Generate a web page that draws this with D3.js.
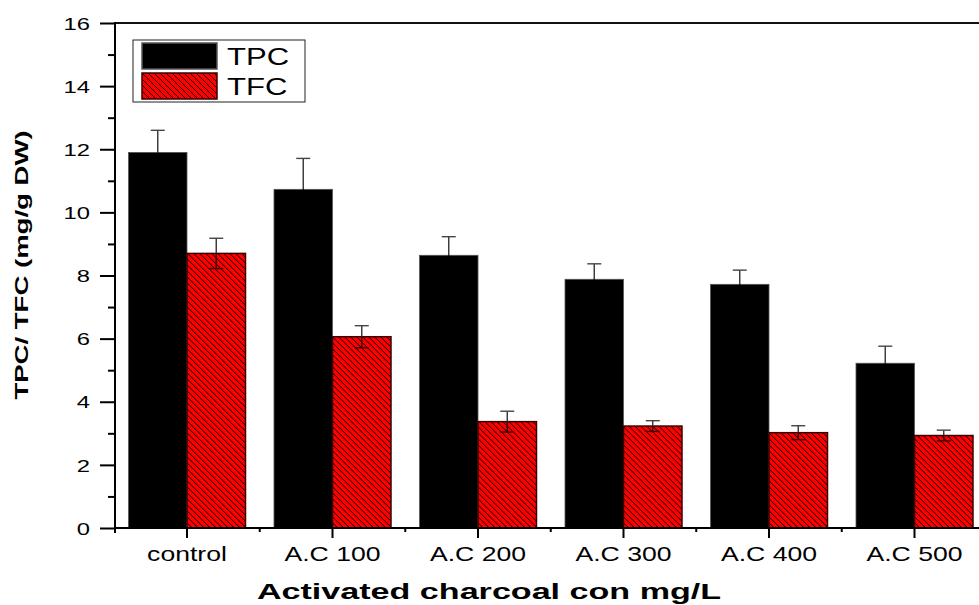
<!DOCTYPE html>
<html>
<head>
<meta charset="utf-8">
<script src="https://cdn.jsdelivr.net/npm/d3@7"></script>
<style>
  html, body { margin: 0; padding: 0; background: #fff; }
  svg { display: block; font-family: "Liberation Sans", Arial, sans-serif; }
</style>
</head>
<body>
<svg id="chart" width="979" height="605"></svg>
<script>
// Phenolic / flavonoid content under activated charcoal treatments
const categories = ["control", "A.C 100", "A.C 200", "A.C 300", "A.C 400", "A.C 500"];
const seriesNames = ["TPC", "TFC"];
const tpcValues = [11.90, 10.73, 8.64, 7.88, 7.72, 5.22];
const tpcErrors = [0.70, 0.98, 0.59, 0.49, 0.45, 0.54];
const tfcValues = [8.70, 6.06, 3.37, 3.23, 3.02, 2.93];
const tfcErrors = [0.48, 0.35, 0.33, 0.17, 0.22, 0.17];
const yMajorTicks = [0, 2, 4, 6, 8, 10, 12, 14, 16];
const yMinorTicks = [1, 3, 5, 7, 9, 11, 13, 15];
const xTitle = "Activated charcoal con mg/L";
const yTitle = "TPC/ TFC (mg/g DW)";

const W = 979, H = 605;
const plot = { left: 115, top: 23, bottom: 528 };

const svg = d3.select("#chart");

// diagonal hatch for the TFC bars
const defs = svg.append("defs");
const pat = defs.append("pattern")
  .attr("id", "hatch")
  .attr("patternUnits", "userSpaceOnUse")
  .attr("width", 6).attr("height", 6);
pat.append("rect").attr("width", 6).attr("height", 6).attr("fill", "#ff0000");
pat.append("path")
  .attr("d", "M-1,-1 L7,7 M-1,5 L1,7 M5,-1 L7,1")
  .attr("stroke", "#000").attr("stroke-width", 1);

const x = d3.scaleBand()
  .domain(categories)
  .range([114.25, 987.25])
  .paddingInner(0).paddingOuter(0);

const xs = d3.scaleBand()
  .domain(seriesNames)
  .range([0, x.bandwidth()])
  .paddingInner(0).paddingOuter(0.2436);

const y = d3.scaleLinear().domain([0, 16]).range([plot.bottom, plot.top]);

const rows = categories.map((c, i) => ({
  cat: c,
  vals: [
    { key: "TPC", v: tpcValues[i], e: tpcErrors[i] },
    { key: "TFC", v: tfcValues[i], e: tfcErrors[i] }
  ]
}));

const fills = { TPC: "#000", TFC: "url(#hatch)" };
const strokes = { TPC: "#555", TFC: "#3a0000" };
const lowCaps = { TPC: "#000", TFC: "#3a0000" };

const groups = svg.append("g").selectAll("g.grp")
  .data(rows).join("g")
  .attr("class", "grp")
  .attr("transform", d => `translate(${x(d.cat)},0)`);

groups.selectAll("rect")
  .data(d => d.vals).join("rect")
  .attr("x", d => xs(d.key))
  .attr("y", d => y(d.v))
  .attr("width", xs.bandwidth())
  .attr("height", d => y(0) - y(d.v))
  .attr("fill", d => fills[d.key])
  .attr("stroke", d => strokes[d.key])
  .attr("stroke-width", d => d.key === "TFC" ? 1.5 : 0.8);

// error bars (mean ± error)
const eb = groups.selectAll("g.err")
  .data(d => d.vals).join("g")
  .attr("class", "err")
  .attr("transform", d => `translate(${xs(d.key) + xs.bandwidth() / 2},0)`);
eb.append("line")
  .attr("y1", d => y(d.v)).attr("y2", d => y(d.v + d.e))
  .attr("stroke", "#333").attr("stroke-width", 1.4);
eb.append("line")
  .attr("y1", d => y(d.v - d.e)).attr("y2", d => y(d.v))
  .attr("stroke", d => lowCaps[d.key]).attr("stroke-width", 1.4);
eb.append("line")
  .attr("x1", -7).attr("x2", 7)
  .attr("y1", d => y(d.v + d.e)).attr("y2", d => y(d.v + d.e))
  .attr("stroke", "#444").attr("stroke-width", 1.4);
eb.append("line")
  .attr("x1", -7).attr("x2", 7)
  .attr("y1", d => y(d.v - d.e)).attr("y2", d => y(d.v - d.e))
  .attr("stroke", d => lowCaps[d.key]).attr("stroke-width", 1.4);

// left axis
const yAxis = svg.append("g")
  .attr("transform", `translate(${plot.left},0)`)
  .call(d3.axisLeft(y).tickValues(yMajorTicks).tickSize(15).tickSizeOuter(0).tickFormat(d3.format("d")));
yAxis.select(".domain").remove();
yAxis.selectAll(".tick line").attr("stroke", "#000").attr("stroke-width", 2);
yAxis.selectAll(".tick text")
  .attr("x", 0).attr("dy", "0.36em")
  .attr("transform", "translate(-25,0) scale(1.4,1)")
  .attr("text-anchor", "end")
  .attr("font-size", 17).attr("fill", "#000")
  .style("font-family", "'Liberation Sans', Arial, sans-serif");

const yMinor = svg.append("g")
  .attr("transform", `translate(${plot.left},0)`)
  .call(d3.axisLeft(y).tickValues(yMinorTicks).tickSize(7).tickSizeOuter(0).tickFormat(""));
yMinor.select(".domain").remove();
yMinor.selectAll(".tick line").attr("stroke", "#000").attr("stroke-width", 2);

// bottom axis
const xAxis = svg.append("g")
  .attr("transform", `translate(0,${plot.bottom})`)
  .call(d3.axisBottom(x).tickSize(10).tickSizeOuter(0));
xAxis.select(".domain").remove();
xAxis.selectAll(".tick line").attr("stroke", "#000").attr("stroke-width", 2);
xAxis.selectAll(".tick text")
  .attr("y", 0).attr("dy", 0)
  .attr("transform", "translate(0,33) scale(1.33,1)")
  .attr("text-anchor", "middle")
  .attr("font-size", 20).attr("fill", "#000")
  .style("font-family", "'Liberation Sans', Arial, sans-serif");

// minor ticks on the category boundaries
svg.append("g").selectAll("line")
  .data(categories).join("line")
  .attr("x1", d => x(d) + x.bandwidth()).attr("x2", d => x(d) + x.bandwidth())
  .attr("y1", plot.bottom).attr("y2", plot.bottom + 4)
  .attr("stroke", "#000").attr("stroke-width", 2);
svg.append("line")
  .attr("x1", plot.left).attr("x2", plot.left)
  .attr("y1", plot.bottom).attr("y2", plot.bottom + 5)
  .attr("stroke", "#000").attr("stroke-width", 2);

// frame lines
svg.append("line")
  .attr("x1", plot.left).attr("x2", W)
  .attr("y1", plot.bottom).attr("y2", plot.bottom)
  .attr("stroke", "#000").attr("stroke-width", 2);
svg.append("line")
  .attr("x1", plot.left).attr("x2", W)
  .attr("y1", plot.top).attr("y2", plot.top)
  .attr("stroke", "#111").attr("stroke-width", 2);
svg.append("line")
  .attr("x1", plot.left).attr("x2", plot.left)
  .attr("y1", plot.top - 1).attr("y2", plot.bottom + 1)
  .attr("stroke", "#000").attr("stroke-width", 2);

// axis titles
svg.append("text")
  .attr("transform", "translate(489,599) scale(1.55,1)")
  .attr("text-anchor", "middle")
  .attr("font-size", 22).attr("font-weight", "bold")
  .text(xTitle);
svg.append("text")
  .attr("transform", "translate(28,265) rotate(-90) scale(1.45,1)")
  .attr("text-anchor", "middle")
  .attr("font-size", 19).attr("font-weight", "bold")
  .text(yTitle);

// legend
const legend = svg.append("g");
legend.append("rect")
  .attr("x", 133).attr("y", 40).attr("width", 172).attr("height", 62)
  .attr("fill", "#fff").attr("stroke", "#222").attr("stroke-width", 1);
const legItems = legend.selectAll("g.item")
  .data(seriesNames).join("g")
  .attr("class", "item")
  .attr("transform", (d, i) => `translate(142,${43 + i * 30})`);
legItems.append("rect")
  .attr("width", 75).attr("height", 26)
  .attr("fill", d => fills[d])
  .attr("stroke", d => strokes[d]).attr("stroke-width", 1.5);
legItems.append("text")
  .attr("transform", "translate(85,22) scale(1.35,1)")
  .attr("font-size", 23)
  .text(d => d);
</script>
</body>
</html>
